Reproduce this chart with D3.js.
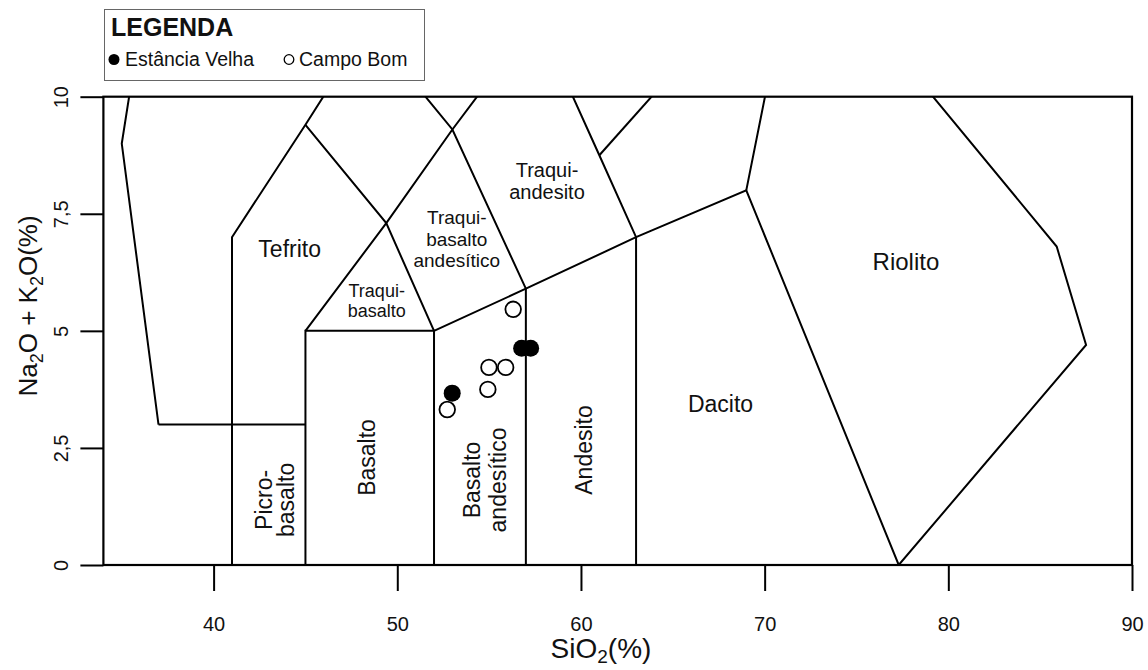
<!DOCTYPE html>
<html>
<head>
<meta charset="utf-8">
<script src="https://cdn.jsdelivr.net/npm/d3@7"></script>
<style>
    body { margin: 0; background: #fff; }
    text { font-family: "Liberation Sans", Arial, sans-serif; fill: #111; }
</style>
</head>
<body>
<svg id="tas-svg"></svg>
<script>
// Diagrama TAS — Estância Velha x Campo Bom

// amostras (SiO2 %, Na2O+K2O %)
const estanciaSiO2 = [52.99, 56.77, 57.26];
const estanciaAlk = [3.67, 4.63, 4.63];
const campoSiO2 = [56.31, 54.99, 55.90, 54.93, 52.72];
const campoAlk = [5.46, 4.22, 4.22, 3.75, 3.32];

// limites dos campos (Le Bas et al. 1986)
const fieldLines = [
    [[41, 0], [41, 7], [45, 9.4], [48.4, 11.5], [52.5, 14]],
    [[37, 3], [35, 9], [37, 14]],
    [[37, 3], [45, 3]],
    [[45, 0], [45, 5], [52, 5], [52, 0]],
    [[45, 5], [49.4, 7.3], [53, 9.3], [57.6, 11.7]],
    [[45, 9.4], [49.4, 7.3], [52, 5]],
    [[48.4, 11.5], [53, 9.3], [57, 5.9], [57, 0]],
    [[52, 5], [57, 5.9], [63, 7], [69, 8], [77.3, 0]],
    [[57.6, 11.7], [61, 8.75], [63, 7], [63, 0]],
    [[61, 8.75], [71.8, 13.5]],
    [[69, 8], [71.8, 13.5], [85.9, 6.8], [87.5, 4.7], [77.3, 0]]
];

// nomes dos campos, ancorados em unidades do diagrama
const fieldNames = [
    ['Tefrito'],
    ['Traqui-', 'basalto'],
    ['Traqui-', 'basalto', 'andesítico'],
    ['Traqui-', 'andesito'],
    ['Riolito'],
    ['Dacito'],
    ['Andesito'],
    ['Basalto'],
    ['Picro-', 'basalto'],
    ['Basalto', 'andesítico']
];
const fieldNameSiO2 = [44.14, 48.88, 53.24, 58.15, 77.69, 67.6, 60.6, 48.78, 43.16, 54.5];
const fieldNameAlk = [6.57, 5.73, 7.28, 8.29, 6.30, 3.26, 2.456, 2.296, 1.39, 1.815];
const fieldNameVertical = [false, false, false, false, false, false, true, true, true, true];

const xTicks = [40, 50, 60, 70, 80, 90];
const yTicks = [0, 2.5, 5, 7.5, 10];
const yTickLabels = ['0', '2,5', '5', '7,5', '10'];

const legendNames = ['Estância Velha', 'Campo Bom'];

(function () {
    const WIDTH = 1148;
    const HEIGHT = 670;
    const FONT_SIZES = [23, 18, 19, 20, 24, 23, 23, 23, 23, 23];
    const LINE_GAPS = [0, 20, 21.5, 22.3, 0, 0, 0, 0, 22, 26.5];
    const TICK_FONT = 20;

    const svg = d3.select('#tas-svg')
        .attr('width', WIDTH)
        .attr('height', HEIGHT);

    const x = d3.scaleLinear().domain([34, 90]).range([103.4, 1132]);
    const y = d3.scaleLinear().domain([0, 10]).range([565, 96.7]);

    svg.append('clipPath')
        .attr('id', 'plot-clip')
        .append('rect')
        .attr('x', x(34)).attr('y', y(10))
        .attr('width', x(90) - x(34)).attr('height', y(0) - y(10));

    // field boundaries
    const line = d3.line().x(d => x(d[0])).y(d => y(d[1]));
    svg.append('g')
        .attr('clip-path', 'url(#plot-clip)')
        .selectAll('path')
        .data(fieldLines)
        .join('path')
        .attr('d', line)
        .attr('fill', 'none')
        .attr('stroke', '#000')
        .attr('stroke-width', 2);

    // field names
    const names = svg.append('g');
    fieldNames.forEach((lines, i) => {
        const t = names.append('text')
            .attr('text-anchor', 'middle')
            .style('font-size', FONT_SIZES[i] + 'px')
            .attr('transform', fieldNameVertical[i]
                ? `translate(${x(fieldNameSiO2[i])},${y(fieldNameAlk[i])}) rotate(-90)`
                : `translate(${x(fieldNameSiO2[i])},${y(fieldNameAlk[i])})`);
        lines.forEach((s, j) => {
            t.append('tspan').attr('x', 0).attr('y', j * LINE_GAPS[i]).text(s);
        });
    });

    // axes
    const xAxis = svg.append('g')
        .attr('transform', `translate(0,${y(0)})`)
        .call(d3.axisBottom(x).tickValues(xTicks).tickSize(26).tickSizeOuter(0).tickPadding(26));
    xAxis.selectAll('line').attr('stroke', '#000').attr('stroke-width', 2);
    xAxis.select('.domain').remove();
    xAxis.selectAll('text')
        .style('font-size', TICK_FONT + 'px')
        .attr('fill', '#111');

    const yAxis = svg.append('g')
        .attr('transform', `translate(${x(34)},0)`)
        .call(d3.axisLeft(y).tickValues(yTicks).tickFormat((d, i) => yTickLabels[i]).tickSize(23).tickSizeOuter(0));
    yAxis.selectAll('line').attr('stroke', '#000').attr('stroke-width', 2);
    yAxis.select('.domain').remove();
    yAxis.selectAll('text')
        .style('font-size', TICK_FONT + 'px')
        .attr('fill', '#111')
        .attr('transform', 'rotate(-90)')
        .attr('x', 0)
        .attr('y', -35)
        .attr('dy', null)
        .attr('text-anchor', 'middle');

    // plot box
    svg.append('rect')
        .attr('x', x(34)).attr('y', y(10))
        .attr('width', x(90) - x(34)).attr('height', y(0) - y(10))
        .attr('fill', 'none')
        .attr('stroke', '#000')
        .attr('stroke-width', 2.2);

    // axis titles with subscripts
    const xTitle = svg.append('text')
        .attr('x', 601).attr('y', 658)
        .attr('text-anchor', 'middle')
        .style('font-size', '28px');
    xTitle.append('tspan').text('SiO');
    xTitle.append('tspan').style('font-size', '19px').attr('dy', 5).text('2');
    xTitle.append('tspan').attr('dy', -5).text('(%)');

    const yTitle = svg.append('text')
        .attr('transform', 'translate(37,306) rotate(-90)')
        .attr('text-anchor', 'middle')
        .style('font-size', '26px');
    yTitle.append('tspan').text('Na');
    yTitle.append('tspan').style('font-size', '18px').attr('dy', 6).text('2');
    yTitle.append('tspan').attr('dy', -6).text('O + K');
    yTitle.append('tspan').style('font-size', '18px').attr('dy', 6).text('2');
    yTitle.append('tspan').attr('dy', -6).text('O(%)');

    // samples
    const points = svg.append('g');
    points.selectAll('circle.ev')
        .data(d3.zip(estanciaSiO2, estanciaAlk))
        .join('circle')
        .attr('class', 'ev')
        .attr('cx', d => x(d[0]))
        .attr('cy', d => y(d[1]))
        .attr('r', 8.5)
        .attr('fill', '#000');
    points.selectAll('circle.cb')
        .data(d3.zip(campoSiO2, campoAlk))
        .join('circle')
        .attr('class', 'cb')
        .attr('cx', d => x(d[0]))
        .attr('cy', d => y(d[1]))
        .attr('r', 7.8)
        .attr('fill', 'none')
        .attr('stroke', '#000')
        .attr('stroke-width', 1.8);

    // legend
    const legend = svg.append('g');
    legend.append('rect')
        .attr('x', 104.5).attr('y', 9.5)
        .attr('width', 320).attr('height', 71)
        .attr('fill', '#fff')
        .attr('stroke', '#666')
        .attr('stroke-width', 1);
    legend.append('text')
        .attr('x', 111).attr('y', 36)
        .style('font-size', '25px')
        .attr('font-weight', 'bold')
        .text('LEGENDA');
    legend.append('circle').attr('cx', 114).attr('cy', 59.5).attr('r', 5.5).attr('fill', '#000');
    legend.append('text').attr('x', 125).attr('y', 66).style('font-size', '19.5px').text(legendNames[0]);
    legend.append('circle').attr('cx', 289).attr('cy', 59.5).attr('r', 4.8)
        .attr('fill', 'none').attr('stroke', '#000').attr('stroke-width', 1.3);
    legend.append('text').attr('x', 299).attr('y', 66).style('font-size', '19.5px').text(legendNames[1]);
})();
</script>
</body>
</html>
